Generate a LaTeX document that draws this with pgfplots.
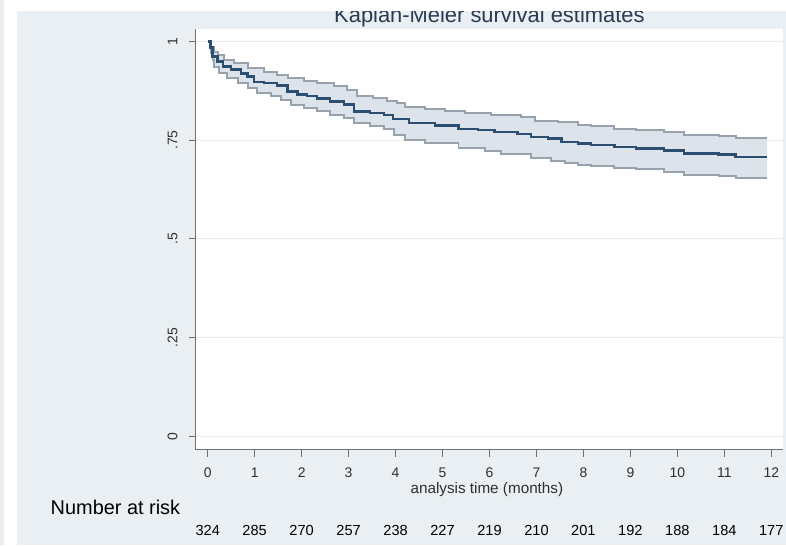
\documentclass[border=0pt]{standalone}
\usepackage{fontspec}
\setmainfont{Liberation Sans}
\usepackage{pgfplots}
\usepackage{pgfplotstable}
\pgfplotsset{compat=1.18}
\usepgfplotslibrary{fillbetween}

\definecolor{bgc}{HTML}{E9EFF2}
\definecolor{bandc}{HTML}{DDE3EA}
\definecolor{cic}{HTML}{98A2AC}
\definecolor{kmc}{HTML}{2C4E70}
\definecolor{gridc}{HTML}{ECECEC}
\definecolor{axisc}{HTML}{707070}
\definecolor{titlec}{HTML}{2A3A52}
\definecolor{labc}{HTML}{2F2F2F}

\pgfplotstableread{
t S
0 1
0.06 0.985
0.10 0.962
0.21 0.949
0.32 0.936
0.49 0.929
0.71 0.919
0.85 0.911
0.99 0.898
1.20 0.894
1.48 0.888
1.70 0.873
1.91 0.866
2.12 0.861
2.33 0.855
2.61 0.848
2.90 0.840
3.11 0.823
3.46 0.819
3.75 0.813
3.95 0.804
4.28 0.793
4.84 0.787
5.34 0.778
5.76 0.775
6.11 0.770
6.60 0.766
6.89 0.758
7.24 0.754
7.53 0.745
7.88 0.741
8.16 0.737
8.66 0.733
9.12 0.729
9.72 0.724
10.14 0.716
10.88 0.714
11.24 0.708
11.91 0.708
}\kmtab

\pgfplotstableread{
t S
0 1
0.08 0.985
0.13 0.974
0.21 0.965
0.35 0.953
0.57 0.945
0.85 0.932
1.20 0.923
1.48 0.915
1.70 0.907
2.05 0.901
2.33 0.894
2.69 0.886
2.97 0.877
3.18 0.861
3.53 0.856
3.82 0.850
4.03 0.844
4.20 0.835
4.63 0.829
5.05 0.823
5.48 0.819
6.04 0.813
6.68 0.808
6.96 0.799
7.46 0.796
7.88 0.789
8.16 0.785
8.66 0.779
9.12 0.775
9.72 0.771
10.14 0.764
10.88 0.760
11.24 0.756
11.91 0.756
}\uptab

\pgfplotstableread{
t S
0 1
0.08 0.970
0.11 0.953
0.14 0.936
0.25 0.919
0.42 0.907
0.64 0.894
0.85 0.882
1.06 0.869
1.34 0.861
1.55 0.852
1.77 0.840
2.05 0.831
2.33 0.823
2.61 0.814
2.90 0.806
3.11 0.793
3.46 0.787
3.75 0.779
3.97 0.764
4.20 0.751
4.63 0.743
5.34 0.729
5.90 0.722
6.25 0.716
6.68 0.714
6.89 0.705
7.31 0.698
7.60 0.693
7.88 0.688
8.16 0.684
8.66 0.680
9.12 0.676
9.72 0.670
10.14 0.662
10.88 0.659
11.24 0.653
11.91 0.653
}\lotab

\begin{document}
\pagecolor{bgc}
\begin{tikzpicture}
\path (0pt,0pt) rectangle (589.5pt,411pt);
\begin{axis}[
  at={(144.75pt,72pt)}, anchor=south west,
  scale only axis, width=442.5pt, height=317pt,
  xmin=-0.254, xmax=12.25, ymin=-0.0345, ymax=1.031,
  axis x line*=bottom, axis y line*=left,
  axis line style={draw=axisc, line width=0.8pt},
  xtick={0,1,...,12},
  ytick={0,0.25,0.5,0.75,1}, yticklabels={0,.25,.5,.75,1},
  tick align=outside, major tick length=5.25pt,
  tick style={draw=axisc, line width=0.8pt},
  ymajorgrids, grid style={draw=gridc, line width=0.8pt},
  axis background/.style={fill=white},
  tick label style={font=\fontsize{10.5}{12}\selectfont, text=labc},
  yticklabel style={rotate=90, anchor=south, yshift=5pt},
  xticklabel style={yshift=-4.5pt},
  /pgf/number format/assume math mode=true,
  clip=false,
]
\addplot[draw=none, const plot, name path=up, forget plot] table[x=t,y=S] {\uptab};
\addplot[draw=none, const plot, name path=lo, forget plot] table[x=t,y=S] {\lotab};
\addplot[fill=bandc, draw=none, forget plot] fill between[of=up and lo];
\addplot[draw=cic, line width=1.5pt, const plot, forget plot] table[x=t,y=S] {\uptab};
\addplot[draw=cic, line width=1.5pt, const plot, forget plot] table[x=t,y=S] {\lotab};
\addplot[draw=kmc, line width=1.8pt, const plot, forget plot] table[x=t,y=S] {\kmtab};
\foreach \xx/\nn in {0/324,1/285,2/270,3/257,4/238,5/227,6/219,7/210,8/201,9/192,10/188,11/184,12/177}{
  \edef\tmp{\noexpand\node[font=\noexpand\fontsize{11}{13}\noexpand\selectfont, text=black] at (axis cs:\xx,-0.2385) {\nn};}
  \tmp
}
\end{axis}
\node[anchor=base, font=\fontsize{11.5}{13}\selectfont, text=labc] at (364.1pt,39pt) {analysis time (months)};
\node[anchor=west, inner sep=0pt, font=\fontsize{15}{17}\selectfont, text=black] at (35.25pt,28.5pt) {Number at risk};
\node[anchor=base, inner sep=0pt, font=\fontsize{16.5}{18}\selectfont, text=titlec] at (366pt,394.1pt) {Kaplan-Meier survival estimates};
\fill[white] (0pt,402.75pt) rectangle (589.5pt,411pt);
\fill[white] (0pt,0pt) rectangle (9.75pt,411pt);
\pgfresetboundingbox
\path[use as bounding box] (0pt,0pt) rectangle (589.5pt,411pt);
\end{tikzpicture}
\end{document}
